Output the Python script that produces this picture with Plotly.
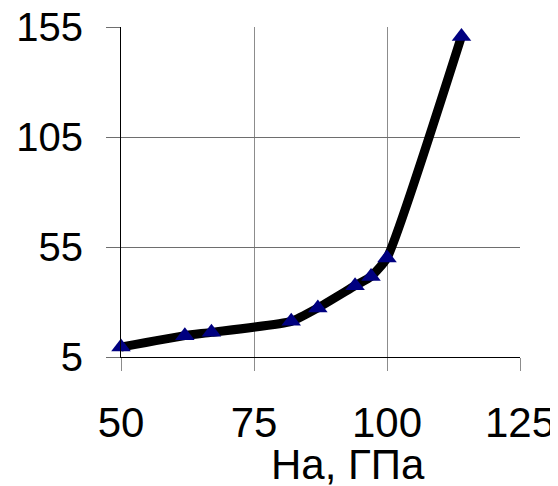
import plotly.graph_objects as go

x_vals = [50, 62, 67, 82, 87, 94, 97, 100, 114]
y_vals = [9.5, 14.7, 16.2, 21.2, 27.3, 37.4, 41.6, 50, 150.7]
x_ticks = [50, 75, 100, 125]
y_ticks = [5, 55, 105, 155]
x_title = "На, ГПа"

FONT = "Liberation Sans, Arial, sans-serif"

W, H = 550, 478
L, T, R, B = 113, 19, 38, 129

fig = go.Figure()
fig.add_trace(go.Scatter(
    x=x_vals, y=y_vals, mode="lines",
    line=dict(color="black", width=9, shape="spline", smoothing=0.5),
    hoverinfo="skip", showlegend=False, cliponaxis=False,
))
fig.add_trace(go.Scatter(
    x=x_vals, y=y_vals, mode="markers",
    marker=dict(symbol="triangle-up", size=17, color="#000080", line=dict(width=0)),
    showlegend=False, cliponaxis=False,
))

fig.update_layout(
    width=W, height=H,
    margin=dict(l=L, r=R, t=T, b=B),
    paper_bgcolor="white", plot_bgcolor="white",
    font=dict(family=FONT, size=40, color="black"),
    xaxis=dict(
        range=[50, 125], tickmode="array", tickvals=x_ticks,
        ticktext=[str(v) for v in x_ticks], automargin=False,
        showgrid=True, gridcolor="#8c8c8c", gridwidth=1,
        showline=True, linecolor="black", linewidth=1,
        ticks="outside", ticklen=13, tickcolor="#8c8c8c", tickwidth=1,
        ticklabelstandoff=16, zeroline=False, ticklabeloverflow="allow",
        tickfont=dict(family=FONT, size=42, color="black"),
    ),
    yaxis=dict(
        range=[5, 155], tickmode="array", tickvals=y_ticks,
        ticktext=[str(v) for v in y_ticks], automargin=False,
        showgrid=True, gridcolor="#6e6e6e", gridwidth=1,
        showline=True, linecolor="black", linewidth=1,
        ticks="outside", ticklen=14, tickcolor="#6e6e6e", tickwidth=1,
        ticklabelstandoff=15, zeroline=False, ticklabeloverflow="allow",
        tickfont=dict(family=FONT, size=40, color="black"),
    ),
    annotations=[dict(
        text=x_title, xref="paper", yref="paper",
        x=(340 - L) / (W - L - R), y=-(456 - (H - B)) / (H - T - B),
        xanchor="center", yanchor="middle", showarrow=False,
        font=dict(family=FONT, size=42, color="black"),
    )],
)

fig.write_html("out.html")
